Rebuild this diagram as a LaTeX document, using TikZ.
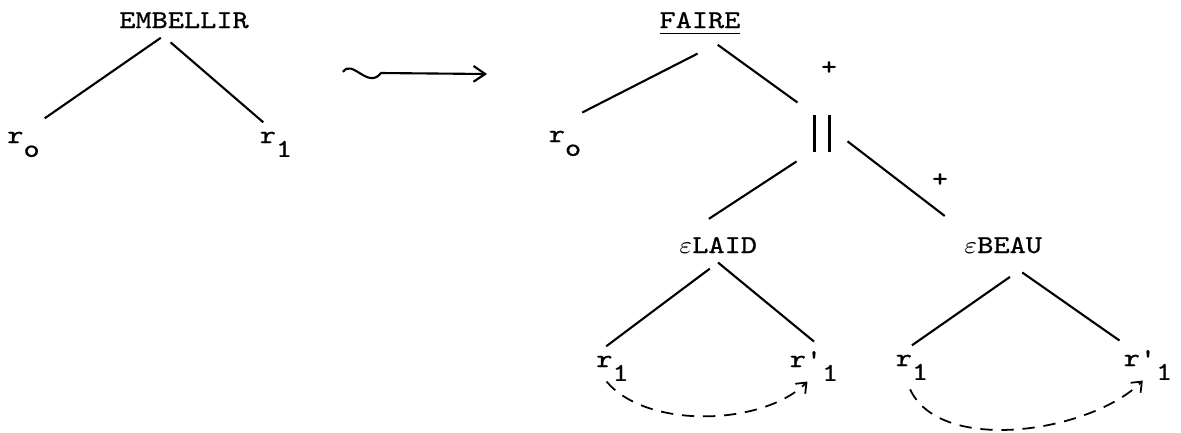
\documentclass[tikz,border=0pt]{standalone}
\usepackage{fontspec}
\usepackage{tikz}
\usetikzlibrary{arrows.meta}
\newfontfamily\twfont{lmmono10-regular.otf}[FakeStretch=1.2,FakeBold=0.8]
\newcommand\tw{\fontsize{7.3pt}{9pt}\selectfont\twfont}
\newcommand\rsub[1]{\raisebox{-1.25ex}{#1}}
\tikzset{
  word/.style={font=\tw,anchor=base,inner xsep=1pt,inner ysep=2.5pt},
  sgn/.style={font=\tw,inner sep=0pt},
  branch/.style={line width=0.6pt},
  perm/.style={line width=0.5pt,dash pattern=on 3.5pt off 2.5pt,-{Straight Barb[length=2.5pt,width=4pt]}},
}

\begin{document}
\begin{tikzpicture}[x=0.01cm,y=-0.01cm]
  \useasboundingbox (0,0) rectangle (1181,432);
  % left tree
  \node[word] (emb) at (184,28) {EMBELLIR};
  \node[word] (r0a) at (23.5,143) {r\rsub{o}};
  \node[word] (r1a) at (276,143) {r\rsub{1}};
  \draw[branch,shorten >=2pt] (emb.217) -- (r0a.55);
  \draw[branch,shorten <=2pt] (emb.223) -- (r1a.120);
  % rewriting arrow
  \coordinate (w0) at (343,72);
  \coordinate (w1) at (487,74);
  \draw[branch,-{Straight Barb[length=3.3pt,width=4.5pt]}] (w0) .. controls (352,58) and (368,90) .. (381,73) -- (w1);
  % right tree
  \node[word] (faire) at (700,28) {\underline{FAIRE}};
  \node[word] (r0b) at (565,142) {r\rsub{o}};
  \node[word,anchor=center,inner xsep=4.5pt] (par) at (822,133.5) {\rule{0.8pt}{10.5pt}\hspace{3.5pt}\rule{0.8pt}{10.5pt}};
  \node[sgn] (p1) at (829,68) {+};
  \node[sgn] (p2) at (940,180) {+};
  \node[word] (laid) at (718,253) {$\varepsilon$LAID};
  \node[word] (beau) at (1003,253) {$\varepsilon$BEAU};
  \node[word] (r1b) at (612.5,367) {r\rsub{1}};
  \node[word] (r1pb) at (814,367) {r'\rsub{1}};
  \node[word] (r1c) at (912,366) {r\rsub{1}};
  \node[word] (r1pc) at (1148,366) {r'\rsub{1}};
  \draw[branch,shorten <=5.5pt,shorten >=5.5pt] (faire.-55) -- (r0b.north);
  \draw[branch,shorten >=1.5pt] (faire.-50) -- (par.126);
  \draw[branch,shorten >=4.5pt] (par.south west) -- (laid.142);
  \draw[branch,shorten >=5.4pt] (par.-17) -- (beau.north west);
  \draw[branch,shorten <=2.9pt] (laid.south) -- (r1b.106);
  \draw[branch] (laid.south) -- (r1pb.north);
  \draw[branch,shorten <=7pt] (beau.-33) -- (r1c.north);
  \draw[branch,shorten <=4.8pt] (beau.-73) -- (r1pc.north west);
  % moves of the r1
  \draw[perm] ([yshift=2.5pt]r1b.255) to[out=-50,in=-135,looseness=0.8] ([yshift=2.5pt]r1pb.255);
  \draw[perm] (r1c.265) to[out=-65,in=-135,looseness=0.8] ([yshift=2.5pt]r1pc.258);
\end{tikzpicture}
\end{document}
